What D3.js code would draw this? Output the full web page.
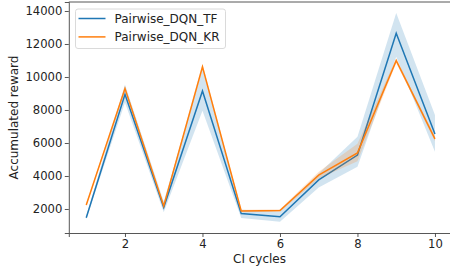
<!DOCTYPE html>
<html>
<head>
<meta charset="utf-8">
<script src="https://cdn.jsdelivr.net/npm/d3@7"></script>
<style>
  body { margin: 0; background: #fff; }
  svg { display: block; font-family: "DejaVu Sans", sans-serif; }
  .axis text { font-size: 11.6px; fill: #222; font-family: "DejaVu Sans", sans-serif; }
  .axis path, .axis line { stroke: #444; stroke-width: 0.9; }
</style>
</head>
<body>
<svg id="chart" width="450" height="273"></svg>
<script>
// values
let cycles = [1, 2, 3, 4, 5, 6, 7, 8, 9, 10];
let tfMean = [1470, 8950, 2100, 9150, 1720, 1530, 3760, 5270, 12650, 6550];
let tfLow  = [1380, 8450, 1800, 7950, 1450, 1230, 3300, 4560, 11230, 5470];
let tfHigh = [1560, 9550, 2450, 10450, 1950, 1850, 4150, 6380, 13880, 7700];
let krMean = [2240, 9300, 2180, 10620, 1880, 1910, 4050, 5400, 10990, 6250];
let krLow  = [2180, 9150, 2080, 10450, 1800, 1840, 3850, 4900, 10850, 6100];
let krHigh = [2300, 9450, 2300, 10780, 1950, 1980, 4250, 5950, 11130, 6400];
let xTicks = [2, 4, 6, 8, 10];
let yTicks = [2000, 4000, 6000, 8000, 10000, 12000, 14000];
let seriesNames = ["Pairwise_DQN_TF", "Pairwise_DQN_KR"];

let svg = d3.select("#chart");
let margin = {top: 2, right: -2.4, bottom: 40, left: 68.8};
let width = +svg.attr("width") - margin.left - margin.right;
let height = +svg.attr("height") - margin.top - margin.bottom;

let g = svg.append("g").attr("transform", `translate(${margin.left}, ${margin.top})`);

let x = d3.scaleLinear().domain([0.55, 10.45]).range([0, width]);
let y = d3.scaleLinear().domain([545, 14545]).range([height, 0]);

let colors = ["#1f77b4", "#ff7f0e"];

let series = [
    {name: seriesNames[0], mean: tfMean, low: tfLow, high: tfHigh, color: colors[0]},
    {name: seriesNames[1], mean: krMean, low: krLow, high: krHigh, color: colors[1]}
];

let area = d3.area()
    .x((d, i) => x(cycles[i]))
    .y0((d) => y(d[0]))
    .y1((d) => y(d[1]));
let line = d3.line()
    .x((d, i) => x(cycles[i]))
    .y((d) => y(d));

// band first, then its mean line, one series after the other
series.forEach((s) => {
    g.append("path")
        .datum(s.low.map((v, i) => [v, s.high[i]]))
        .attr("d", area)
        .attr("fill", s.color)
        .attr("fill-opacity", 0.2)
        .attr("stroke", "none");
    g.append("path")
        .datum(s.mean)
        .attr("d", line)
        .attr("fill", "none")
        .attr("stroke", s.color)
        .attr("stroke-width", 1.5);
});

// axes
g.append("g")
    .attr("class", "axis")
    .attr("transform", `translate(0, ${height})`)
    .call(d3.axisBottom(x).tickValues(xTicks).tickSize(4).tickPadding(2.5).tickFormat(d3.format("d")));
g.append("g")
    .attr("class", "axis")
    .call(d3.axisLeft(y).tickValues(yTicks).tickSize(4).tickPadding(2.5).tickFormat(d3.format("d")));

// top and right spines
g.append("line")
    .attr("x1", 0).attr("x2", width).attr("y1", 0).attr("y2", 0)
    .attr("stroke", "#444").attr("stroke-width", 0.9);
g.append("line")
    .attr("x1", width).attr("x2", width).attr("y1", 0).attr("y2", height)
    .attr("stroke", "#444").attr("stroke-width", 0.9);

// axis labels
svg.append("text")
    .attr("x", 259.5)
    .attr("y", 263)
    .attr("text-anchor", "middle")
    .attr("font-size", 12)
    .attr("fill", "#222")
    .text("CI cycles");
svg.append("text")
    .attr("transform", `translate(18, ${margin.top + height / 2}) rotate(-90)`)
    .attr("text-anchor", "middle")
    .attr("font-size", 12)
    .attr("fill", "#222")
    .text("Accumulated reward");

// legend
let legend = svg.append("g").attr("transform", "translate(75.5, 9)");
legend.append("rect")
    .attr("width", 150)
    .attr("height", 39.5)
    .attr("rx", 2.5)
    .attr("fill", "#fff")
    .attr("fill-opacity", 0.8)
    .attr("stroke", "#d6d6d6")
    .attr("stroke-width", 0.9);
let items = legend.selectAll("g.item")
    .data(series)
    .enter().append("g")
    .attr("class", "item")
    .attr("transform", (d, i) => `translate(0, ${9.5 + i * 18.4})`);
items.append("line")
    .attr("x1", 3).attr("x2", 30)
    .attr("stroke", (d) => d.color)
    .attr("stroke-width", 1.5);
items.append("text")
    .attr("x", 39)
    .attr("y", 4.3)
    .attr("font-size", 12)
    .attr("fill", "#222")
    .text((d) => d.name);
</script>
</body>
</html>
